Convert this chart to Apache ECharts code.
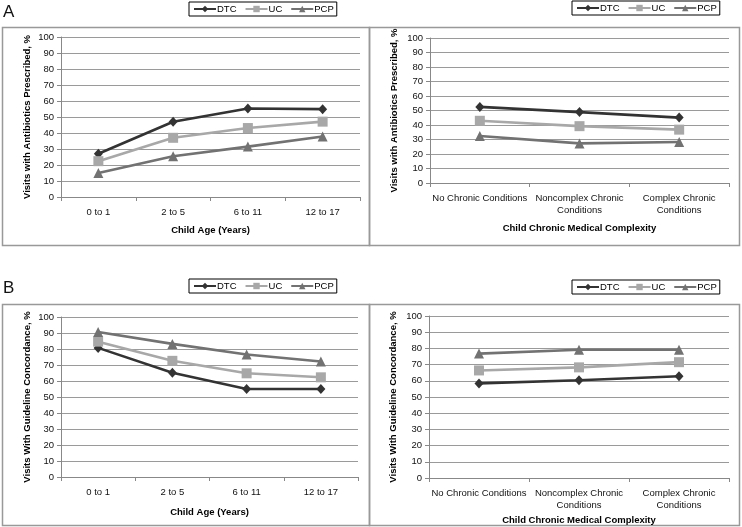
<!DOCTYPE html>
<html>
<head>
<meta charset="utf-8">
<script src="https://cdn.jsdelivr.net/npm/echarts@6/dist/echarts.min.js"></script>
<style>
html,body{margin:0;padding:0;background:#fff;}
#c{width:742px;height:527px;}
</style>
</head>
<body>
<div id="c"></div>
<script>
var seriesNames = ['DTC', 'UC', 'PCP'];
var ageCategories = ['0 to 1', '2 to 5', '6 to 11', '12 to 17'];
var complexityCategories = ['No Chronic Conditions', 'Noncomplex Chronic\nConditions', 'Complex Chronic\nConditions'];

// Panel A: antibiotics prescribed
var abxAgeDTC = [27, 47, 55.3, 54.9];
var abxAgeUC = [22.4, 37, 43.1, 47.1];
var abxAgePCP = [15, 25.5, 31.5, 37.8];
var abxCxDTC = [52.5, 48.9, 45.1];
var abxCxUC = [42.9, 39.2, 36.8];
var abxCxPCP = [32.4, 27.3, 28.3];

// Panel B: guideline concordance
var glAgeDTC = [80.7, 65.2, 55, 55];
var glAgeUC = [84.6, 72.6, 64.8, 62.3];
var glAgePCP = [90.6, 83.2, 76.6, 72.2];
var glCxDTC = [58.4, 60.3, 62.8];
var glCxUC = [66.4, 68.3, 71.5];
var glCxPCP = [76.8, 79.2, 79.2];

var colors = {DTC: '#333333', UC: '#a8a8a8', PCP: '#727272'};
var symbols = {DTC: 'diamond', UC: 'rect', PCP: 'triangle'};
var symbolSizes = {DTC: [9, 10], UC: 10, PCP: 10};
var FONT = 'Liberation Sans, Arial, sans-serif';
var FS = 9.5;

var grids = [
  {left: 61, top: 37, width: 299, height: 160},
  {left: 430, top: 38, width: 299, height: 145},
  {left: 61, top: 317, width: 297, height: 160},
  {left: 429, top: 316, width: 300, height: 162}
];

function xAxisFor(idx, cats, name, gap) {
  return {
    type: 'category', gridIndex: idx, data: cats, boundaryGap: true,
    name: name, nameLocation: 'middle', nameGap: gap,
    nameTextStyle: {fontFamily: FONT, fontSize: FS, fontWeight: 'bold', color: '#000'},
    axisLine: {lineStyle: {color: '#888', width: 1}},
    axisTick: {show: true, alignWithLabel: false, length: 4, lineStyle: {color: '#888'}},
    axisLabel: {fontFamily: FONT, fontSize: FS, color: '#111', margin: 9, lineHeight: 12, interval: 0},
    splitLine: {show: false}
  };
}
function yAxisFor(idx, name, gap) {
  return {
    type: 'value', gridIndex: idx, min: 0, max: 100, interval: 10,
    name: name, nameLocation: 'middle', nameGap: gap, nameRotate: 90,
    nameTextStyle: {fontFamily: FONT, fontSize: FS, fontWeight: 'bold', color: '#000'},
    axisLine: {show: true, lineStyle: {color: '#888', width: 1}},
    axisTick: {show: true, length: 4, inside: false, lineStyle: {color: '#888'}},
    axisLabel: {fontFamily: FONT, fontSize: FS, color: '#111', margin: 7},
    splitLine: {show: true, lineStyle: {color: '#9a9a9a', width: 1}}
  };
}

function mkSeries(name, data, idx) {
  return {
    type: 'line', name: name, data: data, xAxisIndex: idx, yAxisIndex: idx,
    symbol: symbols[name], symbolSize: symbolSizes[name], showSymbol: true,
    lineStyle: {color: colors[name], width: 2.6},
    itemStyle: {color: colors[name]},
    animation: false
  };
}

function legendAt(left, top) {
  return {
    data: seriesNames, orient: 'horizontal', left: left, top: top, width: 220,
    itemWidth: 22, itemHeight: 8, itemGap: 8,
    borderColor: '#000', borderWidth: 1, padding: [2, 3, 2, 4],
    textStyle: {fontFamily: FONT, fontSize: FS, color: '#000', padding: [0, 0, 0, -4]}
  };
}

var option = {
  backgroundColor: '#fff',
  animation: false,
  grid: grids,
  xAxis: [
    xAxisFor(0, ageCategories, 'Child Age (Years)', 28),
    xAxisFor(1, complexityCategories, 'Child Chronic Medical Complexity', 40),
    xAxisFor(2, ageCategories, 'Child Age (Years)', 30),
    xAxisFor(3, complexityCategories, 'Child Chronic Medical Complexity', 37)
  ],
  yAxis: [
    yAxisFor(0, 'Visits with Antibiotics Prescribed, %', 29),
    yAxisFor(1, 'Visits with Antibiotics Prescribed, %', 31),
    yAxisFor(2, 'Visits With Guideline Concordance, %', 29),
    yAxisFor(3, 'Visits With Guideline Concordance, %', 31)
  ],
  legend: [legendAt(189, 2), legendAt(572, 1), legendAt(189, 279), legendAt(572, 280)],
  series: [
    mkSeries('DTC', abxAgeDTC, 0), mkSeries('UC', abxAgeUC, 0), mkSeries('PCP', abxAgePCP, 0),
    mkSeries('DTC', abxCxDTC, 1), mkSeries('UC', abxCxUC, 1), mkSeries('PCP', abxCxPCP, 1),
    mkSeries('DTC', glAgeDTC, 2), mkSeries('UC', glAgeUC, 2), mkSeries('PCP', glAgePCP, 2),
    mkSeries('DTC', glCxDTC, 3), mkSeries('UC', glCxUC, 3), mkSeries('PCP', glCxPCP, 3)
  ],
  graphic: [
    {type: 'rect', shape: {x: 2.5, y: 27.5, width: 367, height: 218}, style: {fill: 'none', stroke: '#999', lineWidth: 1.5}, z: -1},
    {type: 'rect', shape: {x: 369.5, y: 27.5, width: 370, height: 218}, style: {fill: 'none', stroke: '#999', lineWidth: 1.5}, z: -1},
    {type: 'rect', shape: {x: 2.5, y: 304.5, width: 367, height: 221}, style: {fill: 'none', stroke: '#999', lineWidth: 1.5}, z: -1},
    {type: 'rect', shape: {x: 369.5, y: 304.5, width: 370, height: 221}, style: {fill: 'none', stroke: '#999', lineWidth: 1.5}, z: -1},
    {type: 'text', left: 3, top: 4, style: {text: 'A', fontFamily: FONT, fontSize: 17, fill: '#111'}},
    {type: 'text', left: 3, top: 280, style: {text: 'B', fontFamily: FONT, fontSize: 17, fill: '#111'}}
  ]
};

var chart = echarts.init(document.getElementById('c'), null, {renderer: 'canvas'});
chart.setOption(option);
</script>
</body>
</html>
